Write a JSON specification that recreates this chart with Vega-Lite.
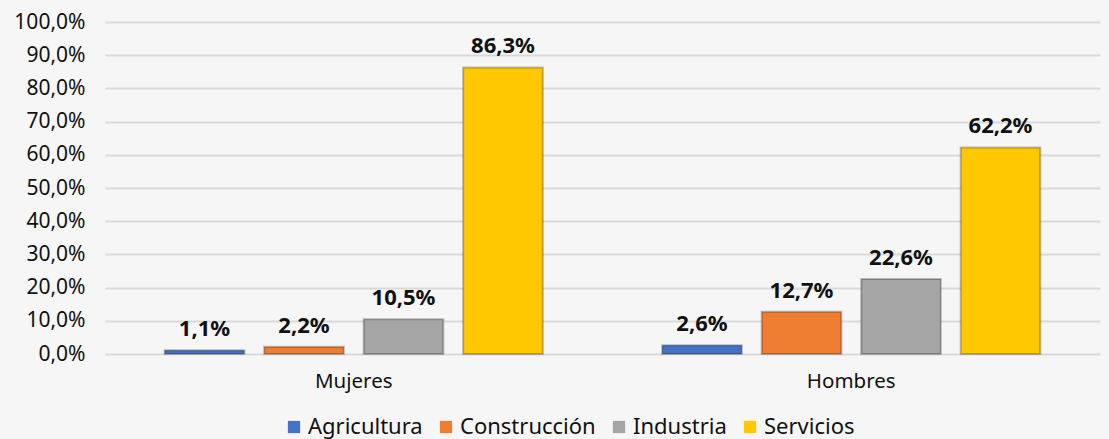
{
  "$schema": "https://vega.github.io/schema/vega-lite/v6.json",
  "width": 995,
  "height": 332,
  "autosize": {"type": "none"},
  "padding": {"left": 105, "top": 22, "right": 9, "bottom": 85},
  "background": "#f6f6f6",
  "config": {
    "locale": {"number": {"decimal": ",", "thousands": ".", "grouping": [3], "currency": ["", " €"]}},
    "font": "Noto Sans",
    "view": {"stroke": null}
  },
  "data": {
    "values": [
      {"grupo": "Mujeres", "sector": "Agricultura", "valor": 0.011},
      {"grupo": "Mujeres", "sector": "Construcción", "valor": 0.022},
      {"grupo": "Mujeres", "sector": "Industria", "valor": 0.105},
      {"grupo": "Mujeres", "sector": "Servicios", "valor": 0.863},
      {"grupo": "Hombres", "sector": "Agricultura", "valor": 0.026},
      {"grupo": "Hombres", "sector": "Construcción", "valor": 0.127},
      {"grupo": "Hombres", "sector": "Industria", "valor": 0.226},
      {"grupo": "Hombres", "sector": "Servicios", "valor": 0.622}
    ]
  },
  "encoding": {
    "x": {
      "field": "grupo", "type": "nominal", "sort": ["Mujeres", "Hombres"],
      "scale": {"paddingInner": 0.2, "paddingOuter": 0.1},
      "axis": {"title": null, "labelAngle": 0, "domain": false, "ticks": false, "labelFontSize": 20.5, "labelColor": "#111", "labelPadding": 17}
    },
    "xOffset": {
      "field": "sector", "type": "nominal", "sort": ["Agricultura", "Construcción", "Industria", "Servicios"],
      "scale": {"paddingInner": 0.2, "paddingOuter": 0.1}
    },
    "y": {
      "field": "valor", "type": "quantitative",
      "scale": {"domain": [0, 1]},
      "axis": {"title": null, "format": ".1%", "values": [0,0.1,0.2,0.3,0.4,0.5,0.6,0.7,0.8,0.9,1], "labelOverlap": false, "domain": false, "ticks": false, "labelFontSize": 21, "labelColor": "#111", "labelPadding": 20, "gridColor": "#d9d9d9", "gridWidth": 2}
    }
  },
  "layer": [
    {
      "mark": {"type": "bar", "stroke": "#00000040", "strokeWidth": 2},
      "encoding": {
        "color": {
          "field": "sector", "type": "nominal",
          "sort": ["Agricultura", "Construcción", "Industria", "Servicios"],
          "scale": {"domain": ["Agricultura", "Construcción", "Industria", "Servicios"], "range": ["#4472c4", "#ed7d31", "#a5a5a5", "#ffc800"]},
          "legend": {"title": null, "orient": "none", "direction": "horizontal", "legendX": 178, "legendY": 394, "symbolType": "square", "symbolSize": 150, "symbolStrokeWidth": 0, "labelFontSize": 22, "labelColor": "#111", "columnPadding": 12, "labelOffset": 3}
        }
      }
    },
    {
      "mark": {"type": "text", "baseline": "alphabetic", "dy": -14, "fontSize": 22, "fontWeight": "bold", "color": "#111"},
      "encoding": {
        "text": {"field": "valor", "type": "quantitative", "format": ".1%"}
      }
    }
  ]
}
